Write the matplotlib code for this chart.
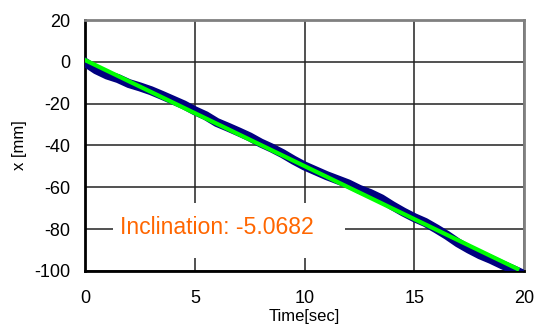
import matplotlib.pyplot as plt
from matplotlib.patches import Rectangle

#### 00 data
# measured position (blue trace)
time_sec = [0, 0.5, 1.0, 1.5, 2.0, 2.5, 3.0, 3.5, 4.0, 4.5, 5.0, 5.5, 6.0, 6.5, 7.0, 7.5,
            8.0, 8.5, 9.0, 9.5, 10.0, 10.5, 11.0, 11.5, 12.0, 12.5, 13.0, 13.5, 14.0, 14.5,
            15.0, 15.5, 16.0, 16.5, 17.0, 17.5, 18.0, 18.5, 19.0, 19.5, 19.75]
pos_mm = [-0.3, -3.8, -6.3, -8.0, -10.4, -12.0, -13.8, -16.0, -18.3, -20.6, -23.4, -25.8,
          -29.0, -31.2, -33.5, -35.9, -38.8, -41.2, -43.9, -47.0, -49.8, -52.1, -54.4,
          -56.4, -58.4, -61.0, -63.0, -65.5, -68.8, -71.8, -74.5, -76.8, -79.8, -83.0,
          -86.6, -89.6, -92.3, -94.5, -97.0, -99.3, -100.5]

# linear fit (green line)
fit_time = [0, 19.7]
fit_pos = [0.8, -99.0]
inclination = -5.0682

xticks = [0, 5, 10, 15, 20]
yticks = [20, 0, -20, -40, -60, -80, -100]

#### 01 plot
plt.rcParams["font.family"] = ["Liberation Sans", "DejaVu Sans"]
plt.rcParams["axes.unicode_minus"] = False

fig = plt.figure(figsize = (5.39, 3.28), dpi = 100)
ax = fig.add_axes([0.158, 0.174, 0.814, 0.765])

ax.plot(time_sec, pos_mm, color = "#000080", linewidth = 6.5, zorder = 3)
ax.plot(fit_time, fit_pos, color = "#00FF00", linewidth = 3, zorder = 4)

ax.set_xlim(0, 20)
ax.set_ylim(-100, 20)
ax.set_xticks(xticks)
ax.set_yticks(yticks)
ax.tick_params(axis = "both", length = 0, labelsize = 13)
ax.tick_params(axis = "x", pad = 14)
ax.tick_params(axis = "y", pad = 11)

ax.grid(True, color = "#222222", linewidth = 1.1)
ax.set_axisbelow(True)

# spines: thick black left/bottom, grey top/right
for side in ["left", "bottom"]:
    ax.spines[side].set_color("black")
    ax.spines[side].set_linewidth(2)
for side in ["top", "right"]:
    ax.spines[side].set_color("#808080")
    ax.spines[side].set_linewidth(2)

ax.set_xlabel("Time[sec]", fontsize = 12, labelpad = 1)
ax.set_ylabel("x [mm]", fontsize = 12, labelpad = 5)

# white box behind the annotation
ax.add_patch(Rectangle((1.28, -93.8), 10.57, 26.2, facecolor = "white", edgecolor = "none", zorder = 2))
ax.text(1.6, -79, "Inclination: " + str(inclination), color = "#FF6600", fontsize = 16.6,
        va = "center", ha = "left", zorder = 5)

#### 02 save
fig.savefig("out.png", dpi = 100)
